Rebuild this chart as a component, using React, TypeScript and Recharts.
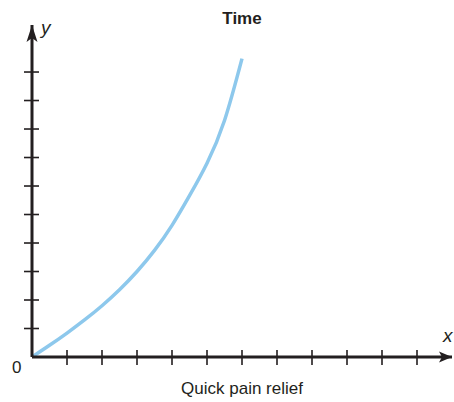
import { LineChart, Line, XAxis, YAxis, ReferenceDot } from 'recharts';

// curve (x in tick units, y in tick units)
const xVals = [0, 0.5, 1, 1.5, 2, 2.5, 3, 3.5, 4, 4.5, 5, 5.5, 6];
const yVals = [0, 0.41, 0.84, 1.3, 1.8, 2.36, 3.0, 3.74, 4.62, 5.66, 6.8, 8.3, 10.47];
const xTicks = [1, 2, 3, 4, 5, 6, 7, 8, 9, 10, 11];
const yTicks = [1, 2, 3, 4, 5, 6, 7, 8, 9, 10];
const xMax = 12;
const yMax = 11.65;

const data = xVals.map((x, i) => ({ x, y: yVals[i] }));

const INK = '#231f20';
const CURVE = '#8dc8ec';
const FONT = '"Liberation Sans", Arial, sans-serif';

const XTick = (props: any) => (
    <line x1={props.x} x2={props.x} y1={props.y - 7} y2={props.y + 8} stroke={INK} strokeWidth={1.6} />
);

const YTick = (props: any) => (
    <line x1={props.x - 8} x2={props.x + 7} y1={props.y} y2={props.y} stroke={INK} strokeWidth={1.6} />
);

const XArrow = (props: any) => {
    const { cx, cy } = props;
    return <path d={`M${cx},${cy} L${cx - 13},${cy - 5.5} L${cx - 10},${cy} L${cx - 13},${cy + 5.5} Z`} fill={INK} />;
};

const YArrow = (props: any) => {
    const { cx, cy } = props;
    return <path d={`M${cx},${cy} L${cx + 5.5},${cy + 17} L${cx},${cy + 13} L${cx - 5.5},${cy + 17} Z`} fill={INK} />;
};

export default function App() {
    return (
        <div style={{ position: 'absolute', left: 0, top: 0, width: 454, height: 402, background: '#fff' }}>
            <LineChart width={454} height={402} data={data} margin={{ top: 25, right: 2, bottom: 35, left: 22 }}>
                <XAxis
                    dataKey="x"
                    type="number"
                    domain={[0, xMax]}
                    ticks={xTicks}
                    height={10}
                    tickSize={0}
                    tickMargin={0}
                    tickLine={false}
                    tick={XTick}
                    axisLine={{ stroke: INK, strokeWidth: 3 }}
                    allowDataOverflow
                />
                <YAxis
                    type="number"
                    domain={[0, yMax]}
                    ticks={yTicks}
                    width={10}
                    tickSize={0}
                    tickMargin={0}
                    tickLine={false}
                    tick={YTick}
                    axisLine={{ stroke: INK, strokeWidth: 3 }}
                    allowDataOverflow
                />
                <Line
                    dataKey="y"
                    type="natural"
                    stroke={CURVE}
                    strokeWidth={3.5}
                    dot={false}
                    activeDot={false}
                    isAnimationActive={false}
                />
                <ReferenceDot x={xMax} y={0} ifOverflow="visible" shape={XArrow} />
                <ReferenceDot x={0} y={yMax} ifOverflow="visible" shape={YArrow} />
            </LineChart>
            <svg width={454} height={402} style={{ position: 'absolute', left: 0, top: 0, pointerEvents: 'none' }}>
                <text x={242} y={24} textAnchor="middle" fontFamily={FONT} fontWeight="bold" fontSize={17} fill={INK}>Time</text>
                <text x={41} y={34} fontFamily={FONT} fontStyle="italic" fontSize={19} fill={INK}>y</text>
                <text x={443} y={342} fontFamily={FONT} fontStyle="italic" fontSize={19} fill={INK}>x</text>
                <text x={12} y={373} fontFamily={FONT} fontSize={17} fill={INK}>0</text>
                <text x={242} y={394} textAnchor="middle" fontFamily={FONT} fontSize={17} fill={INK}>Quick pain relief</text>
            </svg>
        </div>
    );
}
